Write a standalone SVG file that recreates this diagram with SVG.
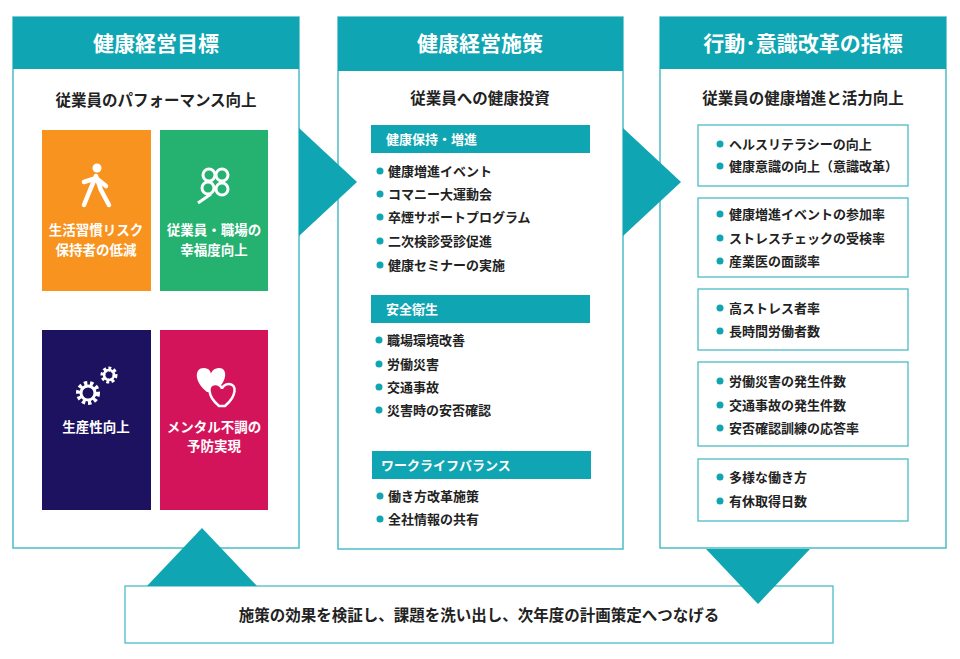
<svg xmlns="http://www.w3.org/2000/svg" width="960" height="659" viewBox="0 0 960 659">
<style>
text{font-family:"Noto Sans CJK JP","Noto Sans",sans-serif;font-weight:bold}
.pan{fill:#fff;stroke:#4cbcc6;stroke-width:1.5}
.hd{fill:#10a5b2}
.ht{fill:#fff;font-size:21px;text-anchor:middle}
.st{fill:#222;font-size:15.5px;text-anchor:middle}
.tt{fill:#fff;font-size:13.5px;text-anchor:middle}
.bar{fill:#10a5b2}
.bt{fill:#fff;font-size:13px}
.it{fill:#222;font-size:13px}
.dot{fill:#10a5b2}
.box{fill:#fff;stroke:#4cbcc6;stroke-width:1.3}
.ar{fill:#10a5b2}
.ic{fill:#fff}
</style>
<g id="panel-goal">
<rect class="pan" x="13" y="17" width="286" height="531"/>
<rect class="hd" x="13" y="17" width="286" height="52"/>
<text class="ht" x="156" y="51">健康経営目標</text>
<text class="st" x="156" y="106">従業員のパフォーマンス向上</text>
<g id="tile1"><rect x="42" y="130" width="109" height="161" fill="#f7931e"/>
<circle class="ic" cx="97" cy="168" r="4.5"/><path d="M96 176 L90 190 L84 205 M96 176 L101 190 L109 205 M84 182 L96 178 L106 186" stroke="#fff" stroke-width="4.5" fill="none" stroke-linecap="round"/>
<text class="tt" x="96" y="235">生活習慣リスク</text><text class="tt" x="96" y="255">保持者の低減</text></g>
<g id="tile2"><rect x="160" y="130" width="108" height="161" fill="#25b16f"/>
<g fill="none" stroke="#fff" stroke-width="3"><circle cx="209" cy="175" r="6"/><circle cx="222" cy="175" r="6"/><circle cx="208" cy="188" r="6"/><circle cx="222" cy="189" r="6"/><path d="M211 194 L198 203"/></g>
<text class="tt" x="214" y="235">従業員・職場の</text><text class="tt" x="214" y="255">幸福度向上</text></g>
<g id="tile3"><rect x="42" y="330" width="109" height="180" fill="#1c1260"/>
<circle cx="88" cy="393" r="9" fill="none" stroke="#fff" stroke-width="6" stroke-dasharray="3 2.5"/><circle cx="88" cy="393" r="7" fill="none" stroke="#fff" stroke-width="3"/>
<circle cx="109" cy="375" r="6" fill="none" stroke="#fff" stroke-width="5" stroke-dasharray="2.5 2"/><circle cx="109" cy="375" r="5" fill="none" stroke="#fff" stroke-width="2.5"/>
<text class="tt" x="96" y="432">生産性向上</text></g>
<g id="tile4"><rect x="160" y="330" width="108" height="180" fill="#d4145a"/>
<path d="M207 392 C194 382 194 368 204 368 C209 368 211 372 211 374 C211 372 214 368 219 368 C228 368 228 382 214 392 Z" fill="#fff"/>
<path d="M219 406 C207 396 207 384 215 384 C219 384 222 387 222 389 C222 387 225 384 229 384 C237 384 237 396 225 406 Z" fill="#d4145a" stroke="#fff" stroke-width="2.5"/>
<text class="tt" x="214" y="432">メンタル不調の</text><text class="tt" x="214" y="451">予防実現</text></g>
</g>
<g id="panel-measures">
<rect class="pan" x="338" y="17" width="285" height="532"/>
<rect class="hd" x="338" y="17" width="285" height="54"/>
<text class="ht" x="480" y="51">健康経営施策</text>
<text class="st" x="480" y="104">従業員への健康投資</text>
<rect class="bar" x="371" y="125" width="219" height="28"/><text class="bt" x="386" y="144">健康保持・増進</text>
<g class="it"><circle class="dot" cx="380" cy="171" r="3.5"/><text x="388" y="175.5">健康増進イベント</text>
<circle class="dot" cx="380" cy="194" r="3.5"/><text x="388" y="198.5">コマニー大運動会</text>
<circle class="dot" cx="380" cy="217" r="3.5"/><text x="388" y="221.5">卒煙サポートプログラム</text>
<circle class="dot" cx="380" cy="241" r="3.5"/><text x="388" y="245.5">二次検診受診促進</text>
<circle class="dot" cx="380" cy="265" r="3.5"/><text x="388" y="269.5">健康セミナーの実施</text></g>
<rect class="bar" x="371" y="295" width="219" height="28"/><text class="bt" x="386" y="314">安全衛生</text>
<g class="it"><circle class="dot" cx="379" cy="340" r="3.5"/><text x="387" y="344.5">職場環境改善</text>
<circle class="dot" cx="379" cy="364" r="3.5"/><text x="387" y="368.5">労働災害</text>
<circle class="dot" cx="379" cy="387" r="3.5"/><text x="387" y="391.5">交通事故</text>
<circle class="dot" cx="379" cy="410" r="3.5"/><text x="387" y="414.5">災害時の安否確認</text></g>
<rect class="bar" x="372" y="451" width="219" height="28"/><text class="bt" x="381" y="470">ワークライフバランス</text>
<g class="it"><circle class="dot" cx="380" cy="496" r="3.5"/><text x="388" y="500.5">働き方改革施策</text>
<circle class="dot" cx="380" cy="519" r="3.5"/><text x="388" y="523.5">全社情報の共有</text></g>
</g>
<g id="panel-indicators">
<rect class="pan" x="660" y="17" width="286" height="531"/>
<rect class="hd" x="660" y="17" width="286" height="52"/>
<text class="ht" x="803" y="51">行動･意識改革の指標</text>
<text class="st" x="803" y="104">従業員の健康増進と活力向上</text>
<rect class="box" x="698" y="125" width="210" height="61"/>
<rect class="box" x="698" y="198" width="210" height="79"/>
<rect class="box" x="698" y="289" width="210" height="61"/>
<rect class="box" x="698" y="362" width="210" height="84"/>
<rect class="box" x="698" y="459" width="210" height="62"/>
<g class="it">
<circle class="dot" cx="720" cy="144" r="3.5"/><text x="729" y="148.5">ヘルスリテラシーの向上</text>
<circle class="dot" cx="720" cy="166" r="3.5"/><text x="729" y="170.5">健康意識の向上（意識改革）</text>
<circle class="dot" cx="720" cy="214" r="3.5"/><text x="729" y="218.5">健康増進イベントの参加率</text>
<circle class="dot" cx="720" cy="238" r="3.5"/><text x="729" y="242.5">ストレスチェックの受検率</text>
<circle class="dot" cx="720" cy="261" r="3.5"/><text x="729" y="265.5">産業医の面談率</text>
<circle class="dot" cx="720" cy="308" r="3.5"/><text x="729" y="312.5">高ストレス者率</text>
<circle class="dot" cx="720" cy="331" r="3.5"/><text x="729" y="335.5">長時間労働者数</text>
<circle class="dot" cx="720" cy="381" r="3.5"/><text x="729" y="385.5">労働災害の発生件数</text>
<circle class="dot" cx="720" cy="405" r="3.5"/><text x="729" y="409.5">交通事故の発生件数</text>
<circle class="dot" cx="720" cy="428" r="3.5"/><text x="729" y="432.5">安否確認訓練の応答率</text>
<circle class="dot" cx="720" cy="477" r="3.5"/><text x="729" y="481.5">多様な働き方</text>
<circle class="dot" cx="720" cy="501" r="3.5"/><text x="729" y="505.5">有休取得日数</text></g>
</g>
<g id="panel-feedback">
<rect class="box" x="125" y="586" width="708" height="57"/>
<text x="479" y="621" fill="#222" font-size="15.5" text-anchor="middle">施策の効果を検証し、課題を洗い出し、次年度の計画策定へつなげる</text>
</g>
<g id="connectors">
<polygon class="ar" points="299,128 357,182 299,236"/>
<polygon class="ar" points="623,128 681,182 623,236"/>
<polygon class="ar" points="147,586 202,528 257,586"/>
<polygon class="ar" points="706,549 810,549 758,604"/>
</g>
</svg>
